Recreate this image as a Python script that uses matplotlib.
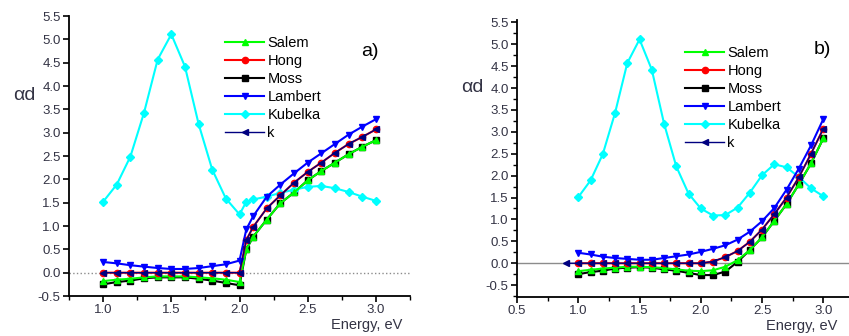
import matplotlib
matplotlib.use("Agg")
import matplotlib.pyplot as plt
from matplotlib.ticker import MultipleLocator

plt.rcParams["font.family"] = ["Liberation Sans", "DejaVu Sans"]

# panel a): energy grid has an extra point just above the edge at 2.0 eV
energy_a = [1.0, 1.1, 1.2, 1.3, 1.4, 1.5, 1.6, 1.7, 1.8, 1.9, 2.0,
            2.05, 2.1, 2.2, 2.3, 2.4, 2.5, 2.6, 2.7, 2.8, 2.9, 3.0]
salem_a = [-0.18, -0.15, -0.13, -0.10, -0.08, -0.08, -0.08, -0.10, -0.12, -0.15, -0.20,
           0.50, 0.77, 1.14, 1.49, 1.72, 1.98, 2.18, 2.36, 2.54, 2.70, 2.84]
hong_a = [0.0, 0.0, 0.0, 0.0, 0.0, 0.0, 0.0, 0.0, 0.0, 0.0, 0.0,
          0.70, 0.98, 1.38, 1.66, 1.93, 2.16, 2.36, 2.57, 2.76, 2.91, 3.07]
moss_a = [-0.25, -0.20, -0.17, -0.12, -0.10, -0.10, -0.10, -0.13, -0.17, -0.22, -0.27,
          0.50, 0.77, 1.14, 1.49, 1.72, 1.98, 2.18, 2.36, 2.54, 2.70, 2.84]
lambert_a = [0.23, 0.20, 0.16, 0.13, 0.10, 0.08, 0.08, 0.10, 0.14, 0.18, 0.26,
             0.93, 1.21, 1.63, 1.89, 2.13, 2.36, 2.56, 2.76, 2.96, 3.13, 3.29]
kubelka_a = [1.52, 1.89, 2.49, 3.43, 4.57, 5.11, 4.42, 3.19, 2.21, 1.59, 1.25,
             1.52, 1.57, 1.63, 1.71, 1.78, 1.84, 1.86, 1.81, 1.73, 1.63, 1.54]
k_energy_a = energy_a
k_a = hong_a

# panel b)
energy_b = [1.0, 1.1, 1.2, 1.3, 1.4, 1.5, 1.6, 1.7, 1.8, 1.9, 2.0,
            2.1, 2.2, 2.3, 2.4, 2.5, 2.6, 2.7, 2.8, 2.9, 3.0]
salem_b = [-0.18, -0.15, -0.12, -0.10, -0.08, -0.08, -0.09, -0.11, -0.14, -0.17, -0.18,
           -0.16, -0.08, 0.07, 0.30, 0.59, 0.97, 1.35, 1.80, 2.28, 2.85]
hong_b = [0.0, 0.0, 0.0, 0.0, 0.0, 0.0, 0.0, 0.0, 0.0, 0.0, 0.0,
          0.04, 0.14, 0.28, 0.49, 0.77, 1.12, 1.50, 1.96, 2.50, 3.07]
moss_b = [-0.25, -0.20, -0.17, -0.12, -0.10, -0.09, -0.10, -0.14, -0.17, -0.22, -0.27,
          -0.27, -0.19, 0.03, 0.30, 0.59, 0.97, 1.35, 1.80, 2.28, 2.85]
lambert_b = [0.24, 0.20, 0.15, 0.12, 0.10, 0.08, 0.08, 0.12, 0.16, 0.20, 0.26,
             0.33, 0.41, 0.54, 0.72, 0.96, 1.26, 1.68, 2.16, 2.69, 3.29]
kubelka_b = [1.51, 1.89, 2.49, 3.43, 4.57, 5.11, 4.42, 3.19, 2.21, 1.59, 1.25,
             1.09, 1.10, 1.27, 1.61, 2.01, 2.26, 2.19, 1.97, 1.71, 1.53]
k_energy_b = [0.9] + energy_b
k_b = [0.0] + hong_b

labels = ["Salem", "Hong", "Moss", "Lambert", "Kubelka", "k"]
colors = ["#00ff00", "#ff0000", "#000000", "#0000ff", "#00ffff", "#000080"]
markers = ["^", "o", "s", "v", "D", "<"]
msizes = [5, 4.5, 4.5, 5, 4.5, 5]
widths = [1.5, 1.5, 1.5, 1.5, 1.5, 1.0]
zorders = [4, 4, 3, 4, 3, 5]

fig = plt.figure(figsize=(8.49, 3.36), dpi=100)
ax_a = fig.add_axes([0.0813, 0.119, 0.4016, 0.833])
ax_b = fig.add_axes([0.609, 0.1161, 0.391, 0.824])


def draw_panel(ax, series, xlim, ylim, zero_style, legend_xy):
    ax.axhline(0, color="#8c8c8c", lw=1.0, ls=zero_style, zorder=1)
    for (xs, ys), lab, c, m, ms, lw, z in zip(series, labels, colors, markers,
                                              msizes, widths, zorders):
        ax.plot(xs, ys, color=c, marker=m, ms=ms, lw=lw, label=lab, zorder=z)
    ax.set_xlim(*xlim)
    ax.set_ylim(*ylim)
    ax.xaxis.set_major_locator(MultipleLocator(0.5))
    ax.xaxis.set_minor_locator(MultipleLocator(0.25))
    ax.yaxis.set_major_locator(MultipleLocator(0.5))
    ax.xaxis.set_major_formatter(lambda v, p: f"{v:.1f}")
    ax.yaxis.set_major_formatter(lambda v, p: f"{v:.1f}")
    for side in ("top", "right"):
        ax.spines[side].set_visible(False)
    for side in ("left", "bottom"):
        ax.spines[side].set_linewidth(1.3)
    ax.tick_params(which="major", direction="out", length=4, width=1.2,
                   labelsize=9.5, labelcolor="#333344", pad=2)
    ax.tick_params(which="minor", direction="out", length=3, width=1.0)
    ax.legend(loc="upper left", bbox_to_anchor=legend_xy,
              bbox_transform=fig.transFigure, frameon=False, fontsize=10.5,
              handlelength=2.7, handletextpad=0.2, labelspacing=0.28,
              borderpad=0, borderaxespad=0)


draw_panel(ax_a,
           [(energy_a, salem_a), (energy_a, hong_a), (energy_a, moss_a),
            (energy_a, lambert_a), (energy_a, kubelka_a), (k_energy_a, k_a)],
           (0.75, 3.25), (-0.5, 5.5), ":", (225 / 849, 1 - 36 / 336))
ax_b.yaxis.set_minor_locator(MultipleLocator(0.25))
draw_panel(ax_b,
           [(energy_b, salem_b), (energy_b, hong_b), (energy_b, moss_b),
            (energy_b, lambert_b), (energy_b, kubelka_b), (k_energy_b, k_b)],
           (0.5, 3.21), (-0.77, 5.55), "-", (685 / 849, 1 - 46 / 336))

fig.text(24 / 849, 1 - 95 / 336, "αd", fontsize=14, color="#333344",
         ha="center", va="center")
fig.text(472 / 849, 1 - 88 / 336, "αd", fontsize=14, color="#333344",
         ha="center", va="center")
fig.text(370 / 849, 1 - 52 / 336, "a)", fontsize=14, ha="center", va="center")
fig.text(822 / 849, 1 - 50 / 336, "b)", fontsize=14, ha="center", va="center")
fig.text(367 / 849, 1 - 325 / 336, "Energy, eV", fontsize=10.5, color="#333344",
         ha="center", va="center")
fig.text(802 / 849, 1 - 326 / 336, "Energy, eV", fontsize=10.5, color="#333344",
         ha="center", va="center")

fig.savefig("out.png", dpi=100)
